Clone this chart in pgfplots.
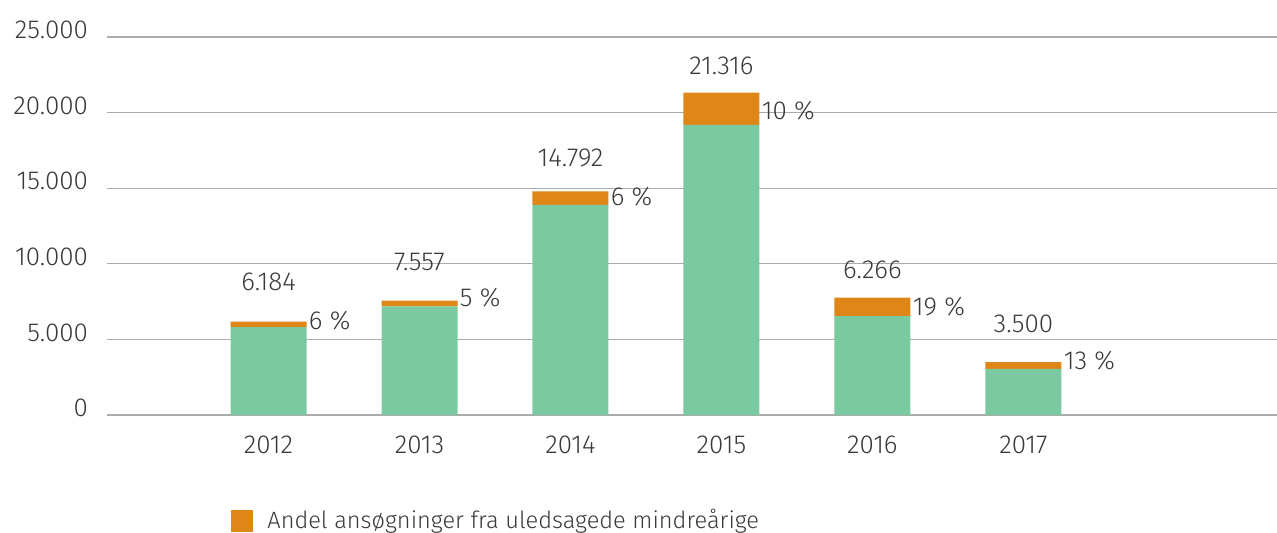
\documentclass[border=0pt]{standalone}
\usepackage{pgfplots}
\pgfplotsset{compat=1.18}
\usepackage{fontspec}
\setmainfont{Fira Sans}[UprightFont={* Light}]
\definecolor{cgreen}{HTML}{7BC9A0}
\definecolor{corange}{HTML}{DF8618}
\definecolor{ctext}{HTML}{3A3A3A}
\definecolor{cgrid}{HTML}{ABABAB}
\begin{document}
\begin{tikzpicture}[font=\fontsize{13}{15}\selectfont, text=ctext]
\begin{axis}[
  at={(0,0)}, anchor=south west,
  scale only axis, width=585pt, height=189pt,
  ybar stacked, bar width=38pt,
  xmin=-1.07, xmax=6.68, ymin=0, ymax=25000,
  xtick={0,1,2,3,4,5}, xticklabels={2012,2013,2014,2015,2016,2017},
  ytick={0,5000,10000,15000,20000,25000},
  /pgf/number format/assume math mode=true,
  /pgf/number format/.cd, 1000 sep={.}, /pgfplots/.cd,
  scaled y ticks=false,
  axis line style={draw=none},
  major tick length=0pt,
  ymajorgrids, grid style={cgrid, line width=0.6pt},
  yticklabel style={anchor=east, xshift=-6pt, yshift=3.5pt, text=ctext},
  xticklabel style={yshift=-7pt, text=ctext},
  legend style={at={(axis description cs:0.106,0)}, yshift=-45pt, anchor=north west, draw=none, fill=none, inner sep=0pt, font=\fontsize{11.8}{14}\selectfont, text=ctext},
  legend image code/.code={\fill[corange] (0pt,-5.5pt) rectangle (11pt,5.5pt); \path (16pt,0);},
  legend cell align=left,
]
\addplot[fill=cgreen, draw=none, forget plot] coordinates {(0,5813) (1,7179) (2,13904) (3,19184) (4,6548) (5,3045)};
\addplot[fill=corange, draw=none] coordinates {(0,371) (1,378) (2,888) (3,2132) (4,1210) (5,455)};
\addlegendentry{Andel ansøgninger fra uledsagede mindreårige}
\node at (axis cs:0,8796) {6.184};
\node at (axis cs:1,10119) {7.557};
\node at (axis cs:2,16997) {14.792};
\node at (axis cs:3,23082) {21.316};
\node at (axis cs:4,9590) {6.266};
\node at (axis cs:5,6019) {3.500};
\node[anchor=west, inner sep=0pt] at (axis cs:0.265,6217) {6 \%};
\node[anchor=west, inner sep=0pt] at (axis cs:1.265,7738) {5 \%};
\node[anchor=west, inner sep=0pt] at (axis cs:2.265,14418) {6 \%};
\node[anchor=west, inner sep=0pt] at (axis cs:3.265,20106) {10 \%};
\node[anchor=west, inner sep=0pt] at (axis cs:4.265,7143) {19 \%};
\node[anchor=west, inner sep=0pt] at (axis cs:5.265,3571) {13 \%};
\end{axis}
\pgfresetboundingbox
\path[use as bounding box] (-53.5pt,-58.5pt) rectangle (585pt,207.5pt);
\end{tikzpicture}
\end{document}
